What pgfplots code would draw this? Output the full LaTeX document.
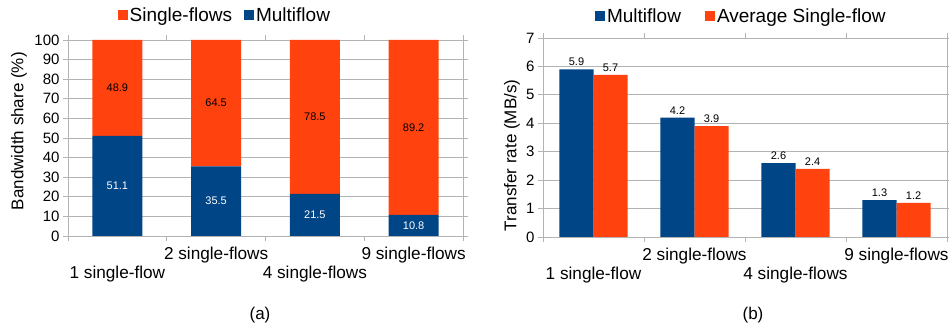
\documentclass[border=0pt]{standalone}
\usepackage{fontspec}
\setmainfont{Liberation Sans}
\usepackage{pgfplots}
\pgfplotsset{compat=1.18}
\definecolor{lblue}{HTML}{004586}
\definecolor{lorange}{HTML}{FF420E}
\definecolor{lgrid}{HTML}{B3B3B3}
\newcommand{\tickfont}{\fontsize{15}{18}\selectfont}
\newcommand{\catfont}{\fontsize{17.2}{19}\selectfont}
\newcommand{\labfont}{\fontsize{17}{20}\selectfont}
\newcommand{\legfont}{\fontsize{19}{22}\selectfont}
\newcommand{\valfont}{\fontsize{11}{13}\selectfont}
\newcommand{\up}[1]{\begin{tabular}[t]{@{}c@{}}#1\end{tabular}}
\newcommand{\dn}[1]{\begin{tabular}[t]{@{}c@{}}\mbox{}\\#1\end{tabular}}
\pgfplotsset{
  common/.style={
    scale only axis,
    /pgf/number format/assume math mode=true,
    xmin=-0.5, xmax=3.5,
    xtick={-0.5,0.5,1.5,2.5,3.5},
    xticklabels={,,,,},
    xticklabel style={font=\catfont, inner sep=1pt, yshift=-9pt},
    extra x ticks={0,1,2,3},
    extra x tick labels={\dn{1 single-flow},\up{2 single-flows},\dn{4 single-flows},\up{9 single-flows}},
    extra x tick style={major tick length=0pt, grid=none},
    tick align=outside,
    major tick length=5pt,
    tick style={draw=lgrid, line width=0.8pt},
    axis line style={draw=lgrid, line width=0.8pt},
    ymajorgrids,
    grid style={draw=lgrid, line width=0.8pt},
    yticklabel style={font=\tickfont, text=black},
    legend style={draw=none, fill=none, font=\legfont, legend columns=2, anchor=center},
  },
  sq/.style={legend image code/.code={\fill[##1] (0pt,-5pt) rectangle (10pt,5pt);}},
}
\begin{document}
\begin{tikzpicture}
\useasboundingbox (0pt,0pt) rectangle (949pt,-328pt);
% ---------- (a) ----------
\begin{axis}[common,
  at={(68pt,-236pt)}, anchor=south west,
  width=395pt, height=196pt,
  ybar stacked, bar width=0.505,
  ymin=0, ymax=100, ytick={0,10,...,100},
  ylabel={Bandwidth share (\%)},
  ylabel style={at={(axis description cs:-0.124,0.535)}, anchor=center, rotate=0, font=\labfont},
  reverse legend,
  legend style={at={(axis description cs:0.397,1.128)}, /tikz/every even column/.append style={column sep=10pt}},
]
\addplot[sq, fill=lblue, draw=none] coordinates {(0,51.1) (1,35.5) (2,21.5) (3,10.8)};
\addlegendentry{\legfont Multiflow}
\addplot[sq, fill=lorange, draw=none] coordinates {(0,48.9) (1,64.5) (2,78.5) (3,89.2)};
\addlegendentry{\legfont Single-flows}
\end{axis}
\begin{axis}[
  at={(68pt,-236pt)}, anchor=south west, scale only axis,
  width=395pt, height=196pt, hide axis,
  xmin=-0.5, xmax=3.5, ymin=0, ymax=100,
  nodes near coords, point meta=explicit symbolic,
  nodes near coords style={font=\valfont, anchor=center},
]
\addplot[draw=none, mark=none, nodes near coords style={text=white}] coordinates {(0,25.55)[51.1] (1,17.75)[35.5] (2,10.75)[21.5] (3,5.4)[10.8]};
\addplot[draw=none, mark=none, nodes near coords style={text=black}] coordinates {(0,75.55)[48.9] (1,67.75)[64.5] (2,60.75)[78.5] (3,55.4)[89.2]};
\end{axis}
% ---------- (b) ----------
\begin{axis}[common,
  at={(543pt,-237pt)}, anchor=south west,
  width=404pt, height=199pt,
  ybar=0pt, bar width=0.337,
  ymin=0, ymax=7, ytick={0,1,...,7},
  ylabel={Transfer rate (MB/s)},
  ylabel style={at={(axis description cs:-0.077,0.41)}, anchor=center, rotate=0, font=\labfont},
  nodes near coords, nodes near coords style={font=\valfont, text=black},
  point meta=explicit symbolic,
  legend style={at={(axis description cs:0.491,1.11)}, /tikz/every even column/.append style={column sep=22pt}},
]
\addplot[sq, fill=lblue, draw=none] coordinates {(0,5.9)[5.9] (1,4.2)[4.2] (2,2.6)[2.6] (3,1.3)[1.3]};
\addlegendentry{\legfont Multiflow}
\addplot[sq, fill=lorange, draw=none] coordinates {(0,5.7)[5.7] (1,3.9)[3.9] (2,2.4)[2.4] (3,1.2)[1.2]};
\addlegendentry{\legfont Average Single-flow}
\end{axis}
\node[font=\labfont] at (260pt,-315pt) {(a)};
\node[font=\labfont] at (753pt,-315pt) {(b)};
\end{tikzpicture}
\end{document}
